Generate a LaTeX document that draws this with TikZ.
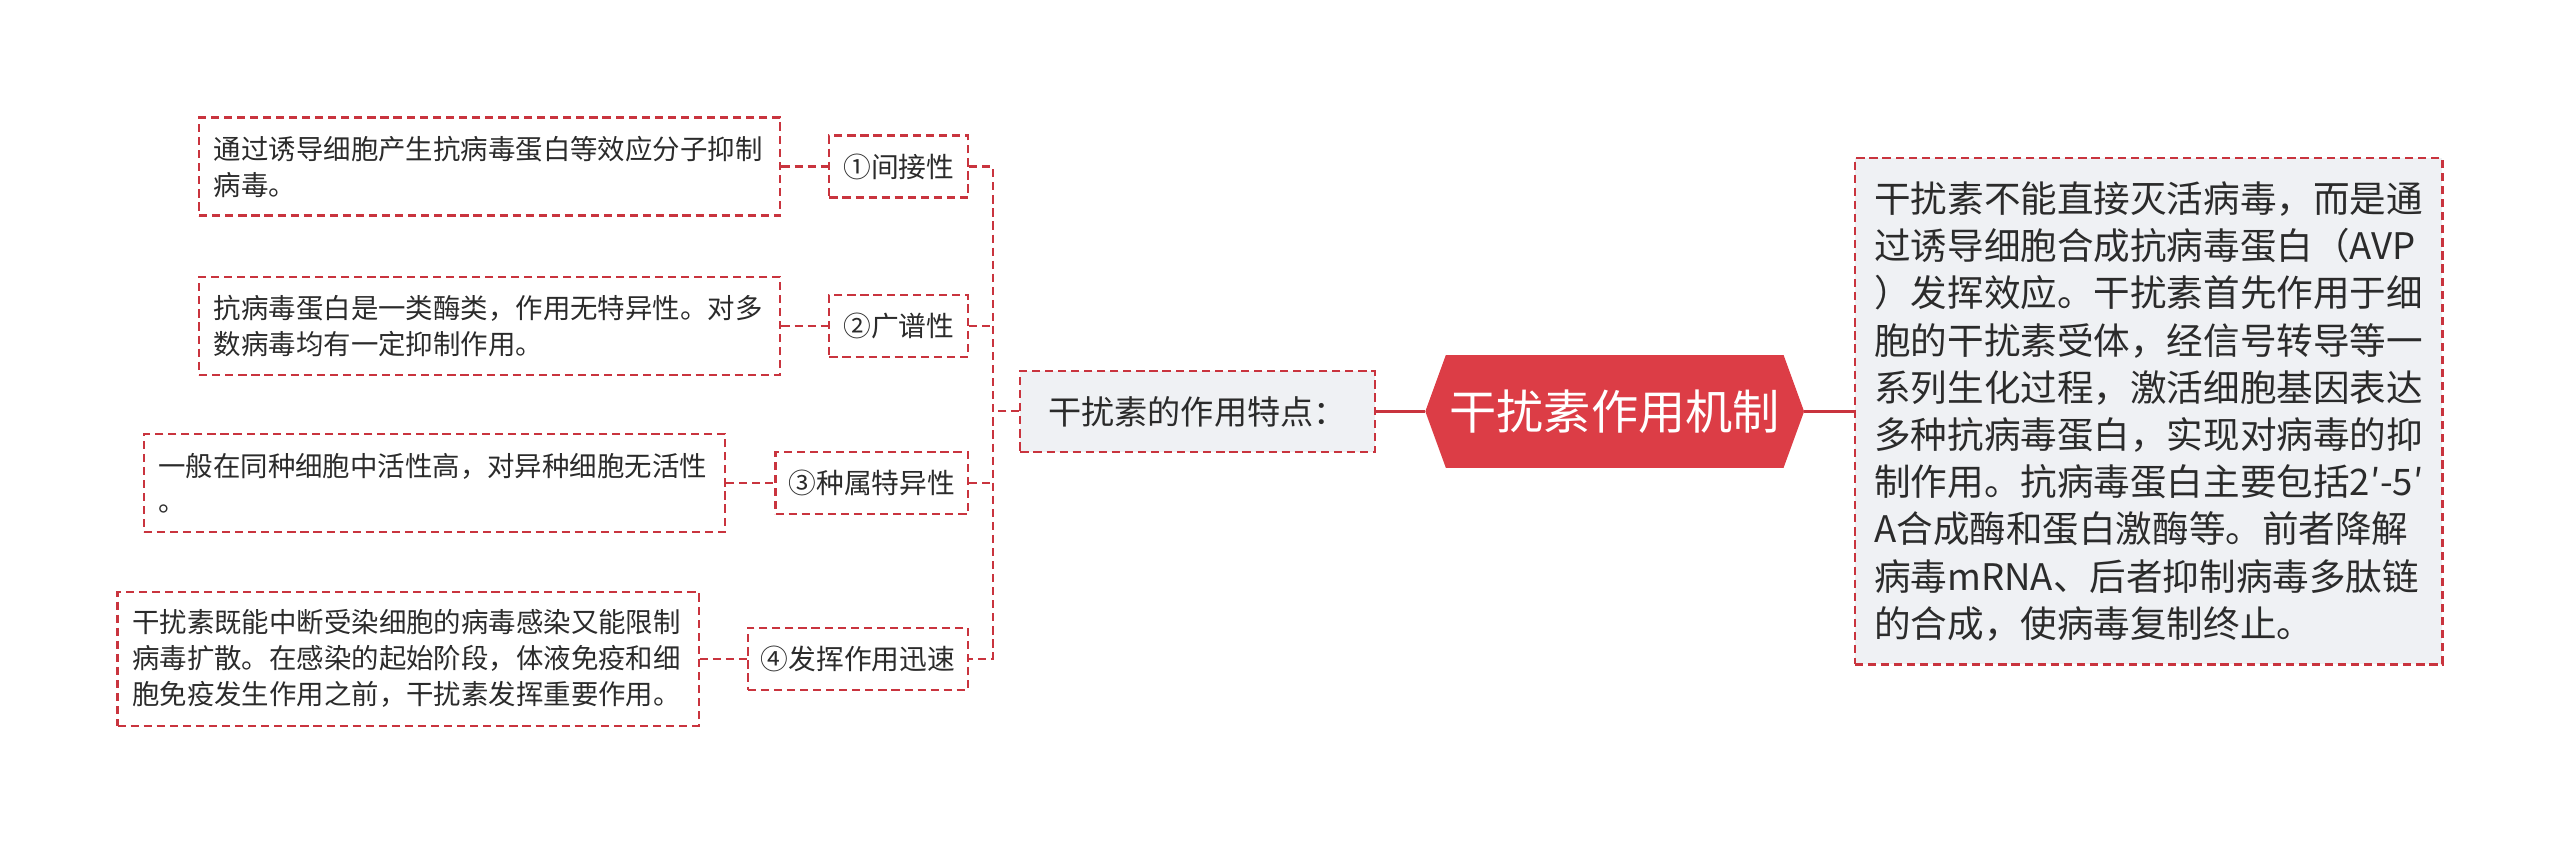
\documentclass[tikz,border=0pt]{standalone}
\usepackage{fontspec}
\setmainfont{Noto Sans CJK SC}
\usetikzlibrary{shapes.symbols}
\definecolor{mapred}{HTML}{DC3D46}
\definecolor{linered}{HTML}{C9343E}
\definecolor{boxgray}{HTML}{EFF1F4}
\definecolor{txtgray}{HTML}{2B2B2B}
\begin{document}
\begin{tikzpicture}[x=1pt, y=-1pt,
  dbox/.style={draw=linered, dash pattern=on 5pt off 3pt, line width=1.3pt, text=txtgray, inner sep=0pt},
  leaf/.style={dbox, align=left, text width=338pt, inner xsep=9pt, font=\fontsize{16.8}{22}\selectfont},
  kid/.style={dbox, minimum height=38pt, font=\fontsize{17}{20}\selectfont},
  link/.style={linered, line width=1.3pt, dash pattern=on 5pt off 3pt}]
\useasboundingbox (0,0) rectangle (1568,516);

\node (core) [signal, signal to=west and east, signal pointer angle=140, fill=mapred, inner sep=0pt,
  minimum width=232pt, minimum height=69pt, text=white, font=\fontsize{28.9}{32}\selectfont] at (989,252) {干扰素作用机制};
\node (trait) [dbox, fill=boxgray, minimum width=217pt, minimum height=50pt, font=\fontsize{20.3}{24}\selectfont] at (733.5,252) {干扰素的作用特点：};
\node (mech) [dbox, fill=boxgray, align=left, text width=344pt, inner xsep=8pt, minimum height=310pt,
  font=\fontsize{22.4}{28.9}\selectfont] at (1316,252)
  {\hspace*{4pt}干扰素不能直接灭活病毒，而是通\\\hspace*{4pt}过诱导细胞合成抗病毒蛋白（AVP\\\hspace*{4pt}）发挥效应。干扰素首先作用于细\\\hspace*{4pt}胞的干扰素受体，经信号转导等一\\\hspace*{4pt}系列生化过程，激活细胞基因表达\\\hspace*{4pt}多种抗病毒蛋白，实现对病毒的抑\\\hspace*{4pt}制作用。抗病毒蛋白主要包括\mbox{2′-5′}\\\hspace*{4pt}A合成酶和蛋白激酶等。前者降解\\\hspace*{4pt}病毒mRNA、后者抑制病毒多肽链\\\hspace*{4pt}的合成，使病毒复制终止。};

% features
\node (k1) [kid, minimum width=85pt] at (550.5,102) {①间接性};
\node (k2) [kid, minimum width=85pt] at (550.5,199.5) {②广谱性};
\node (k3) [kid, minimum width=118pt] at (534,296) {③种属特异性};
\node (k4) [kid, minimum width=135pt] at (525.5,403.5) {④发挥作用迅速};

\node (l1) [leaf, minimum height=60pt] at (300,102) {通过诱导细胞产生抗病毒蛋白等效应分子抑制\\病毒。};
\node (l2) [leaf, minimum height=60pt] at (300,199.5) {抗病毒蛋白是一类酶类，作用无特异性。对多\\数病毒均有一定抑制作用。};
\node (l3) [leaf, minimum height=60pt] at (266,296) {一般在同种细胞中活性高，对异种细胞无活性\\。};
\node (l4) [leaf, minimum height=82pt] at (250,403.5) {干扰素既能中断受染细胞的病毒感染又能限制\\病毒扩散。在感染的起始阶段，体液免疫和细\\胞免疫发生作用之前，干扰素发挥重要作用。};

\draw [linered, line width=2pt] (core.west) -- (trait.east);
\draw [linered, line width=2pt] (core.east) -- (mech.west);

\coordinate (fork) at (608,252);
\draw [link] (trait.west) -- (fork);
\draw [link] (k1.east) -| (fork) |- (k4.east);
\draw [link] (k2.east) -- (k2.east -| fork);
\draw [link] (k3.east) -- (k3.east -| fork);
\draw [link] (l1.east) -- (k1.west);
\draw [link] (l2.east) -- (k2.west);
\draw [link] (l3.east) -- (k3.west);
\draw [link] (l4.east) -- (k4.west);
\end{tikzpicture}
\end{document}
